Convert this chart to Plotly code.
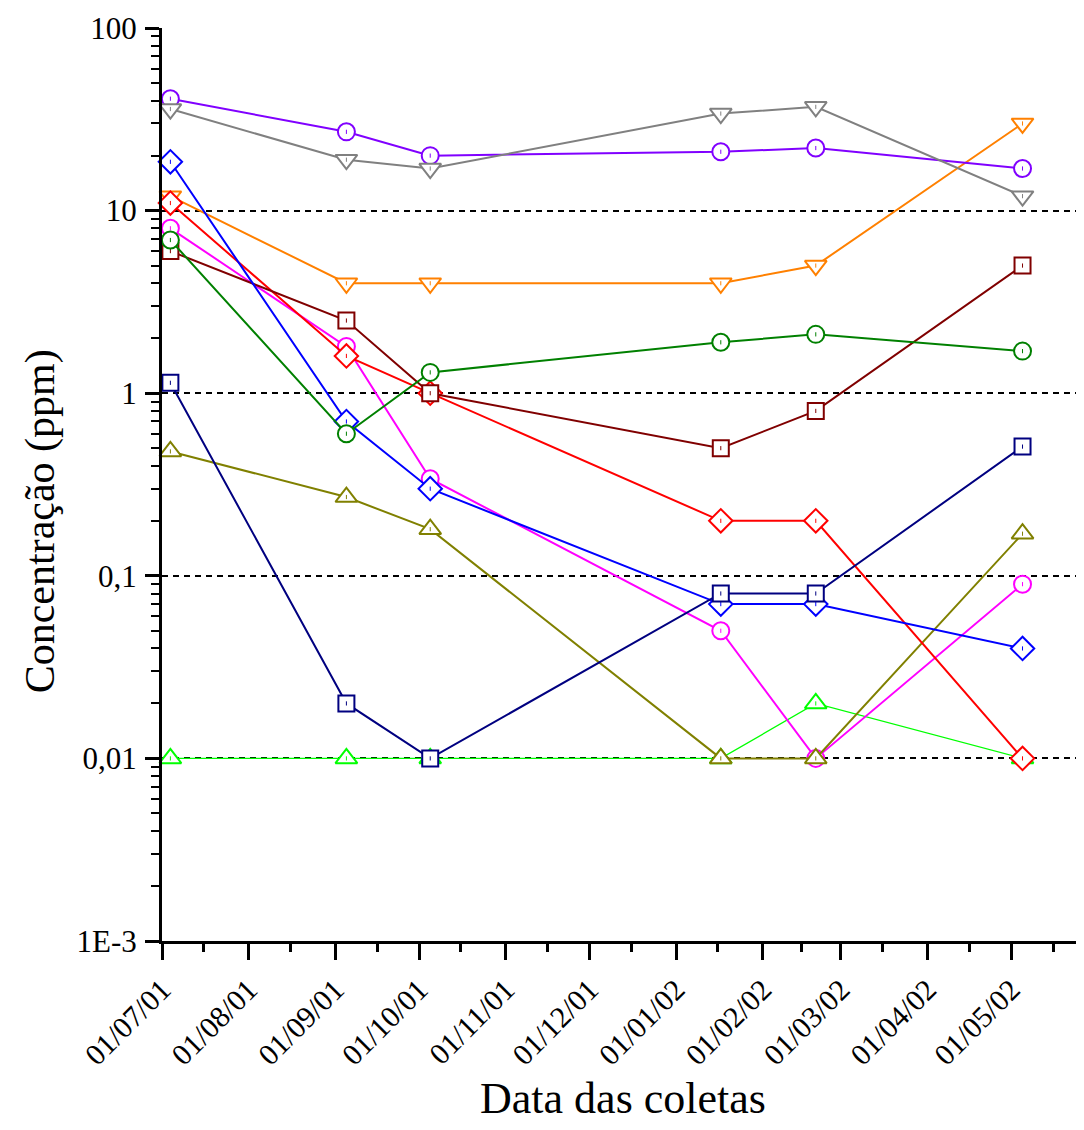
import plotly.graph_objects as go
from datetime import date

# ---- data ----
dates = ["2001-07-04", "2001-09-05", "2001-10-05", "2002-01-17", "2002-02-20", "2002-05-05"]

series_names = ["lime", "magenta", "olive", "orange", "red", "maroon", "blue", "navy", "green", "purple", "gray"]
lime    = [0.01, 0.01, 0.01, 0.01, 0.02, 0.01]
magenta = [8.0, 1.8, 0.34, 0.05, 0.01, 0.09]
olive   = [0.48, 0.27, 0.18, 0.01, 0.01, 0.17]
orange  = [12.0, 4.0, 4.0, 4.0, 5.0, 30.0]
red     = [11.0, 1.6, 1.0, 0.2, 0.2, 0.01]
maroon  = [6.0, 2.5, 1.0, 0.5, 0.8, 5.0]
blue    = [18.5, 0.7, 0.3, 0.07, 0.07, 0.04]
navy    = [1.14, 0.02, 0.01, 0.08, 0.08, 0.51]
green   = [6.9, 0.6, 1.3, 1.9, 2.1, 1.7]
purple  = [41.0, 27.0, 20.0, 21.0, 22.0, 17.0]
gray    = [36.0, 19.0, 17.0, 34.0, 37.0, 12.0]

y_tickvals = [0.001, 0.01, 0.1, 1, 10, 100]
y_ticktext = ["1E-3", "0,01", "0,1", "1", "10", "100"]
month_starts = ["2001-07-01", "2001-08-01", "2001-09-01", "2001-10-01", "2001-11-01", "2001-12-01",
                "2002-01-01", "2002-02-01", "2002-03-01", "2002-04-01", "2002-05-01"]
month_labels = ["01/07/01", "01/08/01", "01/09/01", "01/10/01", "01/11/01", "01/12/01",
                "01/01/02", "01/02/02", "01/03/02", "01/04/02", "01/05/02"]

# ---- styles ----
styles = {
    "lime":    dict(color="#00FF00", symbol="triangle-up", width=1.3),
    "magenta": dict(color="#FF00FF", symbol="circle", width=2),
    "olive":   dict(color="#808000", symbol="triangle-up", width=2),
    "orange":  dict(color="#FF8000", symbol="triangle-down", width=2),
    "red":     dict(color="#FF0000", symbol="diamond", width=2),
    "maroon":  dict(color="#800000", symbol="square", width=2),
    "blue":    dict(color="#0000FF", symbol="diamond", width=2),
    "navy":    dict(color="#000080", symbol="square", width=2),
    "green":   dict(color="#008000", symbol="circle", width=2),
    "purple":  dict(color="#8000FF", symbol="circle", width=2),
    "gray":    dict(color="#808080", symbol="triangle-down", width=2),
}
sizes = {"circle": 17, "square": 16, "diamond": 18, "triangle-up": 19, "triangle-down": 19}
values = {"lime": lime, "magenta": magenta, "olive": olive, "orange": orange, "red": red,
          "maroon": maroon, "blue": blue, "navy": navy, "green": green, "purple": purple, "gray": gray}

fig = go.Figure()
# invisible trace to activate yaxis2 (dashed reference gridlines)
fig.add_trace(go.Scatter(x=[dates[0]], y=[1], yaxis="y2", mode="markers",
                         marker=dict(opacity=0), showlegend=False, hoverinfo="skip"))
for name in series_names:
    st = styles[name]
    fig.add_trace(go.Scatter(
        x=dates, y=values[name], mode="lines+markers", name=name,
        line=dict(color=st["color"], width=st["width"]),
        marker=dict(symbol=st["symbol"], size=sizes[st["symbol"]], color="white",
                    line=dict(color=st["color"], width=2)),
        showlegend=False, cliponaxis=False,
    ))
    # tiny centre dot, as in the original symbols
    fig.add_trace(go.Scatter(
        x=dates, y=values[name], mode="markers", hoverinfo="skip", showlegend=False,
        marker=dict(symbol="line-ns", size=3, line=dict(color=st["color"], width=1)),
        cliponaxis=False,
    ))

# minor ticks (mid-month) and log minor ticks
mid_months = []
for i in range(len(month_starts)):
    a = date.fromisoformat(month_starts[i])
    b = date.fromisoformat(month_starts[i + 1]) if i + 1 < len(month_starts) else date(2002, 6, 1)
    mid_months.append((a + (b - a) / 2).isoformat())
y_minor = [k * 10 ** e for e in range(-3, 2) for k in range(2, 10)]

font_family = "Liberation Serif"

# page body has an 8px margin; compensate so the plot lands where the reference has it
fig.update_layout(
    width=1076, height=1122,
    margin=dict(l=154, r=0, t=20, b=189),
    plot_bgcolor="white", paper_bgcolor="white",
    font=dict(family=font_family, size=30, color="black"),
    xaxis=dict(
        type="date", range=["2001-07-01", "2002-05-27"],
        tickmode="array", tickvals=month_starts, ticktext=month_labels,
        tickangle=-45, ticks="outside", ticklen=16, tickwidth=3, tickcolor="black",
        showline=True, linewidth=3, linecolor="black", showgrid=False, zeroline=False,
        minor=dict(tickmode="array", tickvals=mid_months, ticks="outside", ticklen=8,
                   tickwidth=3, tickcolor="black", showgrid=False),
        tickfont=dict(size=30, family=font_family),
        title=dict(text="Data das coletas", font=dict(size=44, family=font_family), standoff=12),
    ),
    yaxis=dict(
        type="log", range=[-3, 2],
        tickmode="array", tickvals=y_tickvals, ticktext=y_ticktext,
        ticks="outside", ticklen=14, tickwidth=3, tickcolor="black",
        ticklabelstandoff=2,
        showline=True, linewidth=3, linecolor="black", showgrid=False, zeroline=False,
        minor=dict(tickmode="array", tickvals=y_minor, ticks="outside", ticklen=8,
                   tickwidth=2, tickcolor="black", showgrid=False),
        tickfont=dict(size=31, family=font_family),
    ),
    yaxis2=dict(
        type="log", range=[-3, 2], overlaying="y", side="left",
        tickmode="array", tickvals=[0.01, 0.1, 1, 10], showticklabels=False, ticks="",
        showgrid=True, gridcolor="black", gridwidth=1.5, griddash="6px,5px",
        showline=False, zeroline=False,
    ),
    annotations=[dict(
        text="Concentração (ppm)", textangle=-90, xref="paper", yref="paper",
        x=-0.132, y=0.46, xanchor="center", yanchor="middle", showarrow=False,
        font=dict(size=42, family=font_family),
    )],
)

fig.write_html("out.html")
